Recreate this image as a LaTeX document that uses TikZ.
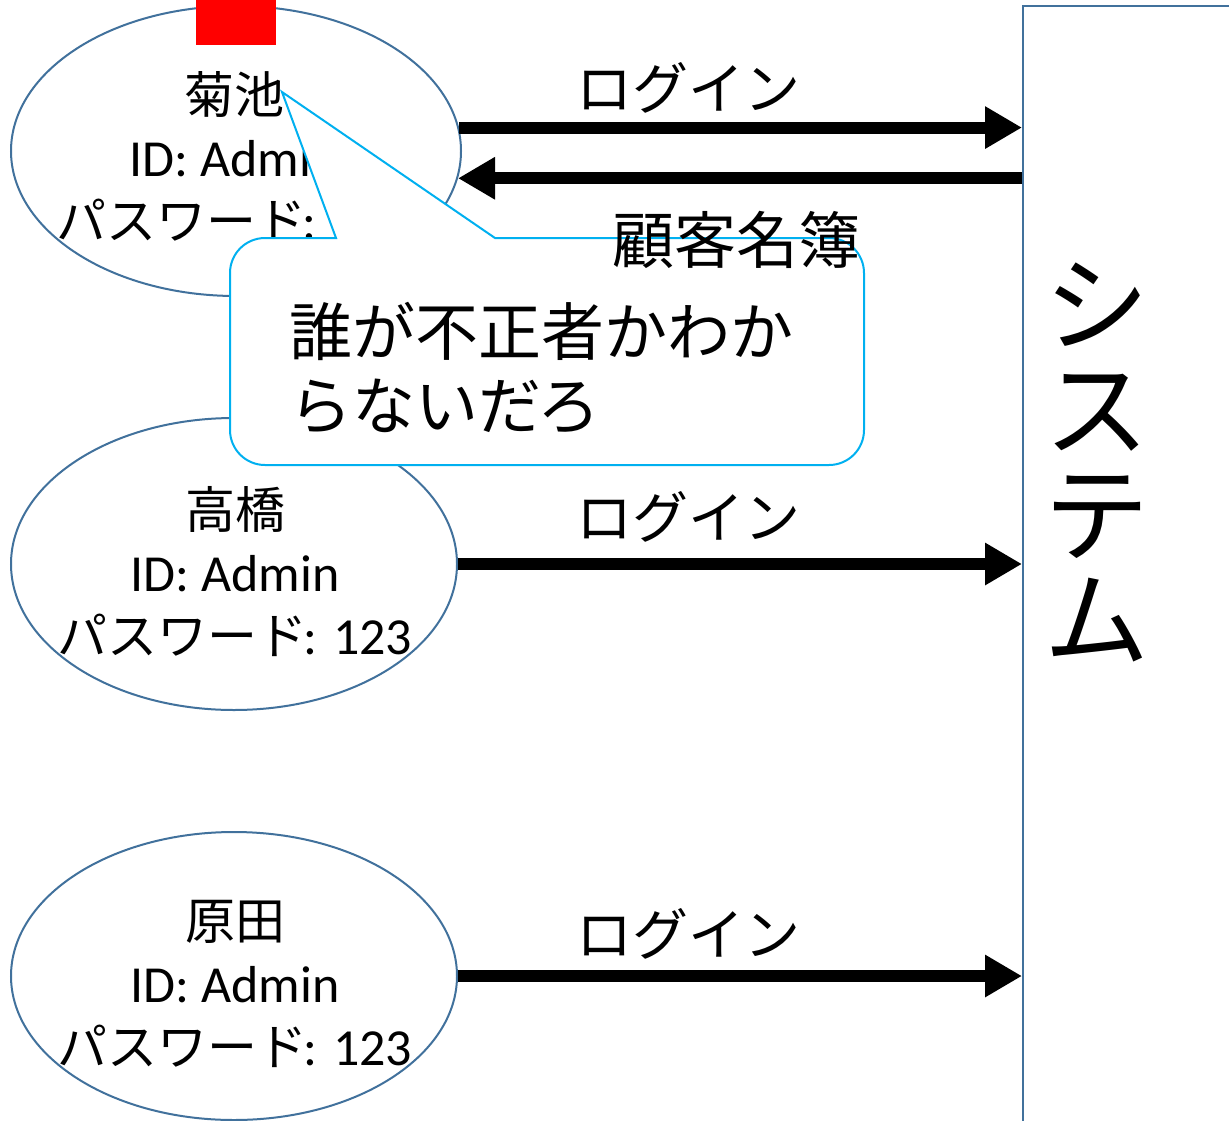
\documentclass[tikz,border=0pt]{standalone}
\usepackage{fontspec}
\setmainfont{Carlito}
\newfontfamily\jp{Noto Sans CJK JP}
\usetikzlibrary{arrows.meta,shapes.geometric,calc}
\definecolor{edgeblue}{RGB}{65,113,156}
\definecolor{callcyan}{RGB}{0,176,240}
\newcommand{\latinbig}{\fontsize{52}{63}\selectfont}
\begin{document}
\begin{tikzpicture}[x=1pt,y=-1pt,
  person/.style={ellipse, draw=edgeblue, line width=2pt, fill=white, inner sep=0pt},
  ptext/.style={align=center, font=\fontsize{50}{63}\selectfont, inner sep=0pt},
  arr/.style={line width=12pt, -{Triangle[length=37pt,width=40pt]}},
  lbl/.style={font=\jp\fontsize{56}{56}\selectfont, inner sep=0pt},
  callout/.style={draw=callcyan, line width=2pt, fill=white, line join=miter},
  sysbox/.style={draw=edgeblue, line width=2pt, anchor=north west, minimum width=300pt, minimum height=1200pt, inner sep=0pt}
]
\useasboundingbox (0,0) rectangle (1229,1120);
\clip (0,0) rectangle (1229,1120);

% system box
\node[sysbox] (sys) at (1022,5) {};
\node[align=center, font=\jp\fontsize{105}{105}\selectfont, inner sep=0pt] (systxt) at (1097,462) {シ\\ス\\テ\\ム};

% persons
\node[person, minimum width=450pt, minimum height=290pt] (k) at (236,151) {};
\node[ptext] (kt) at (234,157) {{\jp 菊池}\\{\latinbig ID: Admin}\\{\jp パスワード}\kern-4pt{\latinbig : 123}};
\node[fill=red, minimum width=80pt, minimum height=45pt, anchor=north west, inner sep=0pt] (redmark) at (196,0) {};

\node[person, minimum width=446pt, minimum height=292pt] (t) at (234,564) {};
\node[ptext] (tt) at (235,572) {{\jp 高橋}\\{\latinbig ID: Admin}\\{\jp パスワード}\kern-4pt{\latinbig : 123}};

\node[person, minimum width=446pt, minimum height=288pt] (h) at (234,976) {};
\node[ptext] (ht) at (235,984) {{\jp 原田}\\{\latinbig ID: Admin}\\{\jp パスワード}\kern-4pt{\latinbig : 123}};

% arrows
\draw[arr] (k.6.5) -- (k.6.5 -| sys.west);
\draw[arr] (k.-7 -| sys.west) -- (k.-7);
\draw[arr] (t.east) -- (t.east -| sys.west);
\draw[arr] (h.east) -- (h.east -| sys.west);

\node[lbl] (l1) at (688,88) {ログイン};
\node[lbl] (l2) at (688,517) {ログイン};
\node[lbl] (l3) at (688,934) {ログイン};

% callout
\path[callout] (495,238) -- (829,238) arc[start angle=-90, end angle=0, radius=35]
  -- (864,430) arc[start angle=0, end angle=90, radius=35]
  -- (265,465) arc[start angle=90, end angle=180, radius=35]
  -- (230,273) arc[start angle=180, end angle=270, radius=35]
  -- (336,238) -- (282,92) -- cycle;
\node[anchor=west, align=left, font=\jp\fontsize{63}{74}\selectfont, inner sep=0pt] (ctext) at (289,368) {誰が不正者かわか\\らないだろ};

\node[font=\jp\fontsize{62}{62}\selectfont, inner sep=0pt] (cust) at (736,240) {顧客名簿};
\end{tikzpicture}
\end{document}
